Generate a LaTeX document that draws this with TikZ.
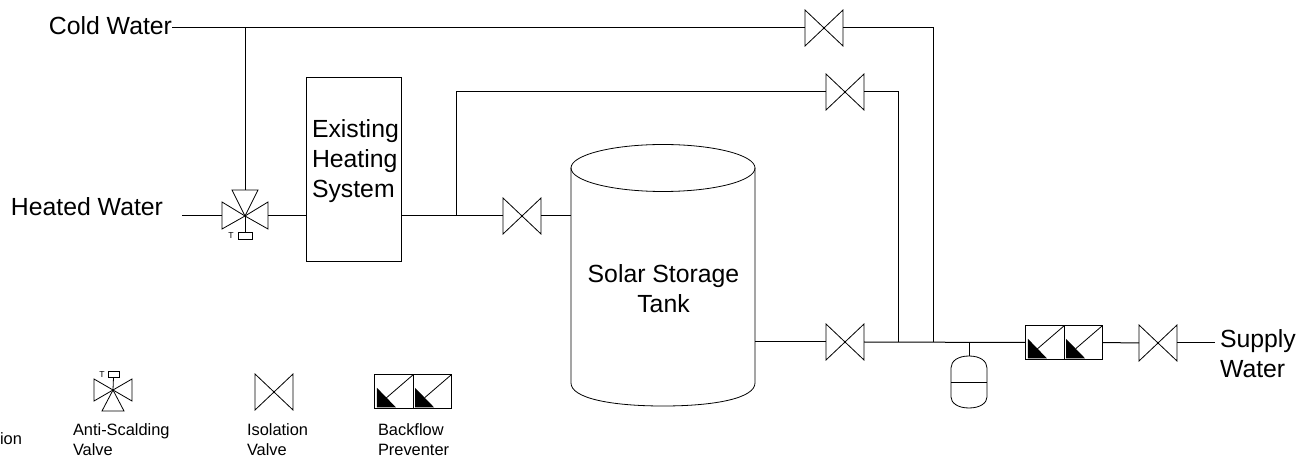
\documentclass[tikz,border=0pt]{standalone}
\usepackage{fontspec}
\setmainfont{Liberation Sans}
\newcommand{\isovalve}[3]{%
  \node[portbox,minimum width=28.5pt,minimum height=27pt] (#1) at (#2,#3) {};
  \draw[symline] (#1.north west) -- (#1.south east) -- (#1.north east) -- (#1.south west) -- cycle;}
\newcommand{\backflowcell}[1]{%
  \fill ([xshift=1.5pt,yshift=-9.75pt]#1.north west) -- ([xshift=1.5pt,yshift=-24.4pt]#1.north west) -- ([xshift=15.75pt,yshift=-24.4pt]#1.north west) -- cycle;
  \draw[symline] (#1.north east) -- ([xshift=8.6pt,yshift=-17.25pt]#1.north west);}
\newcommand{\backflowpair}[3]{%
  \node[cellbox] (#1a) at (#2,#3) {};
  \node[cellbox,anchor=west] (#1b) at (#1a.east) {};
  \backflowcell{#1a}\backflowcell{#1b}}
\tikzset{
  x=0.75pt,y=-0.75pt,
  pipe/.style={draw=black,line width=0.75pt},
  symline/.style={draw=black,line width=0.6pt,line join=miter},
  portbox/.style={inner sep=0pt,outer sep=0pt,draw=none},
  cellbox/.style={draw=black,line width=0.75pt,inner sep=0pt,outer sep=0pt,minimum width=28.6pt,minimum height=25pt},
  biglabel/.style={inner sep=0pt,outer sep=0pt,font=\fontsize{18.6}{22.4}\selectfont},
  smalllabel/.style={inner sep=0pt,outer sep=0pt,font=\fontsize{12.3}{15}\selectfont,align=left,anchor=north west},
  tinylabel/.style={inner sep=0pt,outer sep=0pt,font=\fontsize{6.5}{7}\selectfont},
}
\begin{document}
\begin{tikzpicture}
\useasboundingbox (0,0) rectangle (1311,463);
% labels
\node[biglabel,anchor=east] (cold) at (172,25.5) {Cold Water};
\node[biglabel,anchor=east] (heated) at (163,207) {Heated Water};
\node[biglabel,anchor=west,align=left] (supply) at (1220,354) {Supply\\Water};
% main equipment
\node[draw=black,line width=0.75pt,inner sep=0pt,outer sep=0pt,minimum width=71.25pt,minimum height=138pt,anchor=north west] (heater) at (306,78) {};
\node[biglabel,anchor=north west,align=left] (heatertext) at (312,119.5) {Existing\\Heating\\System};
\node[portbox,minimum width=138pt,minimum height=179.25pt,anchor=north west] (tank) at (571,168) {};
\draw[symline] (tank.north west) arc[start angle=180,end angle=540,x radius=92,y radius=23.5];
\draw[symline] (tank.north west) -- (571,383) .. controls (571,398) and (610,406) .. (663,406) .. controls (716,406) and (755,398) .. (755,383) -- (tank.north east);
\node[biglabel,align=center] (tanktext) at (663.5,289) {Solar Storage\\Tank};
% valves
\isovalve{vtop}{824}{28}
\isovalve{vmid}{845}{92}
\isovalve{vtank}{522}{216}
\isovalve{vout}{845}{342}
\isovalve{vsup}{1158}{343}
\isovalve{vleg}{274}{392}
% backflow preventers
\backflowpair{bf}{1045}{342.5}
\backflowpair{bl}{394}{391.5}
% anti-scald valve, main
\coordinate (mc) at (245,216);
\coordinate (ml) at (222,216);
\coordinate (mr) at (268,216);
\coordinate (mt) at (245,190);
\draw[symline] (mc) -- (222,202) -- (222,229) -- cycle;
\draw[symline] (mc) -- (268,202) -- (268,229) -- cycle;
\draw[symline] (mc) -- (232,190) -- (258,190) -- cycle;
\node[draw=black,line width=0.6pt,inner sep=0pt,outer sep=0pt,minimum width=10.5pt,minimum height=5.25pt] (mtherm) at (245,235.5) {};
\draw[symline] (mc) -- (mtherm.north);
\node[tinylabel] (mT) at (231,235.5) {T};
% anti-scald valve, legend
\coordinate (lc) at (113,390);
\draw[symline] (lc) -- (94,379) -- (94,401) -- cycle;
\draw[symline] (lc) -- (132,379) -- (132,401) -- cycle;
\draw[symline] (lc) -- (102,411) -- (124,411) -- cycle;
\node[draw=black,line width=0.6pt,inner sep=0pt,outer sep=0pt,minimum width=8.25pt,minimum height=4pt] (ltherm) at (113.5,374.5) {};
\draw[symline] (lc) -- (ltherm.south);
\node[tinylabel] (lT) at (102,375) {T};
% expansion tank
\node[portbox,minimum width=27pt,minimum height=39pt,anchor=north west] (exp) at (951,356) {};
\draw[symline] (969,356) .. controls (958,356) and (951,361) .. (951,368) -- (951,397) .. controls (951,403) and (958,408) .. (969,408) .. controls (980,408) and (987,403) .. (987,397) -- (987,368) .. controls (987,361) and (980,356) .. (969,356) -- cycle;
\draw[symline] (951,382) -- (987,382);
% pipes
\coordinate (heatin) at (182,216);
\coordinate (coldj) at (245,28);
\coordinate (topc) at (933,28);
\coordinate (topj) at (933,342.5);
\coordinate (midc) at (898,92);
\coordinate (midj) at (898,342.5);
\coordinate (branchj) at (456,216);
\coordinate (branchc) at (456,92);
\coordinate (expj) at (969,342.5);
\coordinate (tankout) at (755,342);
\coordinate (supend) at (1215,343);
\draw[pipe] (172,28) -- (vtop.west);
\draw[pipe] (vtop.east) -- (topc) -- (topj);
\draw[pipe] (coldj) -- (mt);
\draw[pipe] (heatin) -- (ml);
\draw[pipe] (mr) -- (306,216);
\draw[pipe] (401,216) -- (vtank.west);
\draw[pipe] (vtank.east) -- (571,216);
\draw[pipe] (branchj) -- (branchc) -- (vmid.west);
\draw[pipe] (vmid.east) -- (midc) -- (midj);
\draw[pipe] (tankout) -- (vout.west);
\draw[pipe] (vout.east) -- (bfa.west);
\draw[pipe] (expj) -- (969,356);
\draw[pipe] (bfb.east) -- (vsup.west);
\draw[pipe] (vsup.east) -- (supend);
% legend labels
\node[smalllabel] (frag) at (0,433) {ion};
\node[smalllabel] (l1) at (73,424) {Anti-Scalding\\Valve};
\node[smalllabel] (l2) at (247,424) {Isolation\\Valve};
\node[smalllabel] (l3) at (378,424) {Backflow\\Preventer};
\end{tikzpicture}
\end{document}
